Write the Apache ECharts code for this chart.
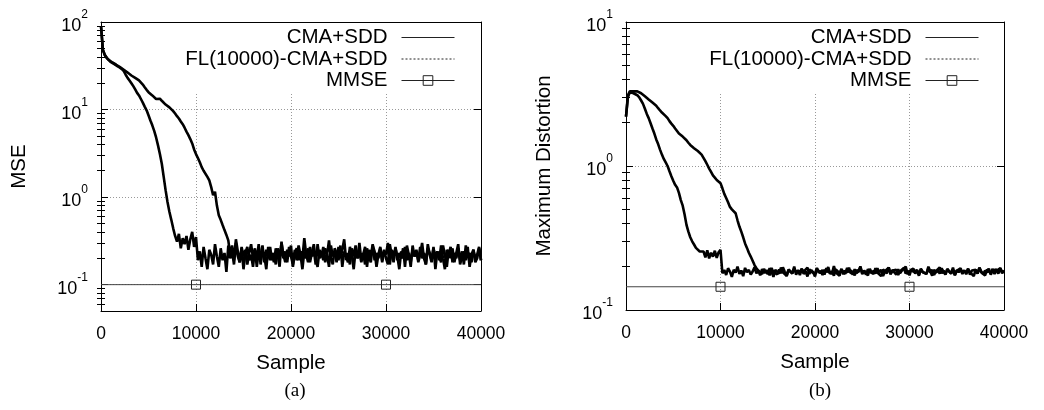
<!DOCTYPE html>
<html>
<head>
<meta charset="utf-8">
<script src="https://cdn.jsdelivr.net/npm/echarts@6/dist/echarts.min.js"></script>
<style>
html,body{margin:0;padding:0;background:#fff;}
#chart{width:1044px;height:410px;}
</style>
</head>
<body>
<div id="chart"></div>
<script>
// ---------- data ----------
const sampleStep = 200; // samples between stored points (0 .. 40000)
const seriesNames = ['CMA+SDD', 'FL(10000)-CMA+SDD', 'MMSE'];

// (a) MSE
const mseCMA = [
90,48,42,39,37,35.5,34.5,33.5,32.5,31.5,30.5,29.5,28.5,27.5,26.5,25.5,24.5,23.8,23,22.3,
21.5,20.5,19.3,18,16.8,15.8,15,14.5,13.8,13.2,13,13.3,12.6,12.1,11.4,11,10.6,10.1,9.6,9,
8.4,7.9,7.3,6.8,6.2,5.6,5.1,4.6,4.1,3.5,3.1,2.8,2.5,2.2,2.0,1.9,1.7,1.55,1.3,1.05,
1.15,0.8,0.62,0.55,0.48,0.42,0.37,0.32,
0.22,0.28,0.19,0.33,0.24,0.18,0.27,0.21,0.25,0.17,
0.23,0.29,0.2,0.26,0.16,0.24,0.22,0.28,0.18,0.25,
0.21,0.27,0.19,0.23,0.17,0.26,0.2,0.3,0.22,0.18,
0.25,0.21,0.28,0.16,0.23,0.26,0.19,0.24,0.2,0.34,
0.22,0.18,0.27,0.21,0.25,0.17,0.29,0.2,0.23,0.19,
0.26,0.22,0.16,0.28,0.21,0.24,0.18,0.27,0.2,0.25,
0.33,0.19,0.23,0.17,0.26,0.21,0.28,0.2,0.24,0.18,
0.22,0.27,0.16,0.25,0.21,0.29,0.19,0.23,0.2,0.26,
0.18,0.24,0.22,0.3,0.17,0.25,0.21,0.27,0.19,0.23,
0.2,0.26,0.16,0.28,0.22,0.18,0.25,0.21,0.24,0.19,
0.27,0.2,0.23,0.17,0.29,0.22,0.18,0.26,0.21,0.24,
0.19,0.28,0.2,0.15,0.25,0.22,0.27,0.18,0.23,0.2,
0.26,0.19,0.24,0.17,0.28,0.21,0.23,0.18,0.25,0.2,
0.22,0.27,0.19
];
const mseFL = [
90,48,42,39,37,35,34,33,32,31,30.5,29,27.5,25,23,21.5,20,18.5,17,15.5,
14.5,13.2,12,10.8,9.8,8.6,7.5,6.6,5.7,4.8,3.9,3.1,2.4,1.7,1.2,0.88,0.68,0.55,0.44,0.36,
0.31,0.38,0.26,0.34,0.29,0.36,0.25,0.33,0.4,0.27,0.35,
0.19,0.24,0.16,0.27,0.2,0.15,0.25,0.22,0.17,0.29,
0.21,0.16,0.26,0.19,0.23,0.14,0.28,0.2,0.24,0.17,
0.3,0.21,0.18,0.26,0.15,0.23,0.27,0.19,0.22,0.16,
0.25,0.2,0.29,0.17,0.24,0.21,0.15,0.27,0.19,0.23,
0.18,0.26,0.22,0.16,0.31,0.2,0.24,0.18,0.27,0.21,
0.17,0.25,0.19,0.28,0.22,0.15,0.24,0.2,0.26,0.18,
0.23,0.29,0.19,0.16,0.25,0.21,0.27,0.18,0.22,0.32,
0.2,0.17,0.26,0.23,0.19,0.28,0.16,0.24,0.21,0.18,
0.27,0.22,0.15,0.25,0.2,0.3,0.19,0.23,0.17,0.26,
0.21,0.18,0.28,0.24,0.16,0.22,0.27,0.19,0.25,0.2,
0.17,0.29,0.22,0.18,0.26,0.21,0.15,0.24,0.2,0.27,
0.19,0.23,0.16,0.28,0.21,0.25,0.18,0.22,0.3,0.2,
0.17,0.26,0.23,0.19,0.27,0.15,0.24,0.21,0.18,0.28,
0.22,0.16,0.25,0.2,0.26,0.18,0.23,0.29,0.17,0.21,
0.24,0.19,0.27,0.16,0.22,0.25,0.18,0.2,0.26,0.19
];
const mmseMSE = 0.1;

// (b) Maximum Distortion
const distCMA = [
2.2,3.1,3.3,3.35,3.3,3.38,3.3,3.25,3.2,3.12,3.05,2.97,2.9,2.83,2.76,2.7,2.62,2.52,2.43,2.35,
2.28,2.22,2.15,2.05,1.97,1.9,1.82,1.75,1.68,1.63,1.6,1.56,1.51,1.45,1.4,1.36,1.33,1.3,1.27,1.24,
1.2,1.14,1.08,1.02,0.96,0.91,0.86,0.83,0.8,0.79,0.76,0.7,0.64,0.6,0.56,0.52,0.5,0.51,0.47,0.42,
0.38,0.35,0.32,0.29,0.27,0.25,0.235,0.22,0.205,0.195,0.188,
0.185,0.178,0.193,0.181,0.189,0.174,0.196,0.183,0.187,0.177,
0.191,0.18,0.198,0.184,0.172,0.19,0.186,0.179,0.194,0.182,
0.188,0.175,0.192,0.185,0.18,0.197,0.178,0.189,0.183,0.171,
0.193,0.186,0.18,0.19,0.176,0.195,0.184,0.188,0.179,0.202,
0.182,0.187,0.173,0.191,0.185,0.178,0.196,0.183,0.189,0.176,
0.192,0.18,0.186,0.199,0.177,0.188,0.184,0.174,0.193,0.181,
0.187,0.179,0.195,0.183,0.19,0.172,0.186,0.182,0.197,0.178,
0.189,0.185,0.176,0.192,0.18,0.188,0.183,0.2,0.177,0.186,
0.181,0.194,0.179,0.189,0.173,0.191,0.184,0.187,0.178,0.196,
0.182,0.19,0.175,0.186,0.183,0.198,0.18,0.188,0.176,0.193,
0.185,0.179,0.191,0.174,0.187,0.184,0.195,0.181,0.189,0.177,
0.192,0.183,0.186,0.172,0.19,0.18,0.197,0.185,0.178,0.188,
0.182,0.194,0.176,0.189,0.184,0.191,0.179,0.196,0.183,0.187
];
const distFL = [
2.2,3.0,3.25,3.3,3.2,3.25,3.1,3.0,2.85,2.7,2.5,2.3,2.15,1.98,1.82,1.68,1.53,1.42,1.3,1.2,
1.12,1.06,1.0,0.92,0.85,0.79,0.74,0.71,0.65,0.58,0.53,0.46,0.39,0.35,0.32,0.3,0.285,0.27,0.262,0.255,
0.25,0.255,0.232,0.26,0.228,0.25,0.235,0.258,0.23,0.252,0.262,
0.18,0.19,0.175,0.195,0.185,0.17,0.19,0.182,0.2,0.178,
0.188,0.172,0.196,0.183,0.19,0.176,0.185,0.198,0.18,0.187,
0.174,0.192,0.181,0.189,0.177,0.195,0.184,0.17,0.19,0.186,
0.179,0.197,0.183,0.188,0.173,0.191,0.185,0.18,0.2,0.176,
0.189,0.182,0.194,0.178,0.186,0.171,0.192,0.184,0.188,0.179,
0.196,0.181,0.187,0.175,0.19,0.183,0.199,0.178,0.186,0.173,
0.191,0.185,0.18,0.193,0.177,0.188,0.182,0.197,0.179,0.186,
0.174,0.19,0.183,0.201,0.18,0.187,0.176,0.192,0.184,0.189,
0.178,0.195,0.182,0.186,0.172,0.191,0.185,0.18,0.198,0.177,
0.188,0.183,0.19,0.175,0.186,0.181,0.196,0.179,0.187,0.174,
0.192,0.184,0.18,0.189,0.176,0.194,0.183,0.187,0.178,0.2,
0.185,0.173,0.19,0.182,0.188,0.179,0.195,0.184,0.177,0.191,
0.186,0.18,0.197,0.175,0.189,0.183,0.192,0.178,0.187,0.181,
0.194,0.176,0.188,0.184,0.19,0.179,0.196,0.182,0.186,0.174,
0.191,0.185,0.18,0.193,0.178,0.187,0.183,0.195,0.18,0.188
];
const mmseDist = 0.145;

const mmseMarkerSamples = [10000, 30000];
const sampleRange = [0, 40000];
const sampleTickStep = 10000;
const yRangeA = [0.05, 100];
const yRangeB = [0.1, 10];
const yMinorA = [0.06,0.07,0.08,0.09,0.2,0.3,0.4,0.5,0.6,0.7,0.8,0.9,2,3,4,5,6,7,8,9,20,30,40,50,60,70,80,90];
const yMinorB = [0.2,0.3,0.4,0.5,0.6,0.7,0.8,0.9,2,3,4,5,6,7,8,9];
const panelLabels = ['(a)', '(b)'];
const yNames = ['MSE', 'Maximum Distortion'];
const xName = 'Sample';

// ---------- build ----------
const FONT = '"Liberation Sans", Arial, Helvetica, sans-serif';
const toPairs = arr => arr.map((v, i) => [i * sampleStep, v]);
const mmsePairs = v => [
  {value: [sampleRange[0], v], symbol: 'none'},
  ...mmseMarkerSamples.map(s => ({value: [s, v]})),
  {value: [sampleRange[1], v], symbol: 'none'}
];

function powLabel(v) {
  const l = Math.log10(v);
  const e = Math.round(l);
  if (Math.abs(l - e) > 1e-6) return '';
  return '{b|10}{s|' + e + '}';
}

const grids = [
  {left: 101, top: 22, width: 380, height: 289},
  {left: 626, top: 22, width: 378, height: 288}
];

const xAxes = [], yAxes = [], series = [], legends = [], titles = [];
const yRanges = [yRangeA, yRangeB];
const yMinors = [yMinorA, yMinorB];
const dataSets = [[mseCMA, mseFL, mmseMSE], [distCMA, distFL, mmseDist]];
const hiddenSymbol = {color: 'rgba(0,0,0,0)', borderColor: 'rgba(0,0,0,0)', borderWidth: 0, opacity: 0};

grids.forEach((g, gi) => {
  const xBase = {
    type: 'value', gridIndex: gi, min: sampleRange[0], max: sampleRange[1], interval: sampleTickStep,
    axisLine: {onZero: false, lineStyle: {color: '#000', width: 1}},
    axisTick: {inside: true, length: 7, lineStyle: {color: '#000'}}
  };
  xAxes.push(Object.assign({}, xBase, {
    position: 'bottom',
    name: xName, nameLocation: 'middle', nameGap: 42,
    nameTextStyle: {fontFamily: FONT, fontSize: 20.5, color: '#000'},
    axisLabel: {margin: 14, fontFamily: FONT, fontSize: 17.5, color: '#000', formatter: v => String(v)},
    splitLine: {show: true, lineStyle: {color: '#999', type: [1, 2], width: 1}}
  }));
  xAxes.push(Object.assign({}, xBase, {
    position: 'top', axisLabel: {show: false}, splitLine: {show: false}
  }));

  const yBase = {
    type: 'log', logBase: 10, gridIndex: gi, min: yRanges[gi][0], max: yRanges[gi][1]
  };
  yAxes.push(Object.assign({}, yBase, {
    position: 'left',
    name: yNames[gi], nameLocation: 'middle', nameGap: 71, nameRotate: 90,
    nameTextStyle: {fontFamily: FONT, fontSize: 20.5, color: '#000'},
    axisLine: {show: true, onZero: false, lineStyle: {color: '#000', width: 1}},
    axisTick: {inside: true, length: 7, lineStyle: {color: '#000'}},
    axisLabel: {
      margin: 13, formatter: powLabel, color: '#000',
      rich: {
        b: {fontFamily: FONT, fontSize: 18, color: '#000', lineHeight: 26, verticalAlign: 'bottom'},
        s: {fontFamily: FONT, fontSize: 12, color: '#000', lineHeight: 12, verticalAlign: 'top'}
      }
    },
    splitLine: {show: true, lineStyle: {color: '#999', type: [1, 2], width: 1}}
  }));
  yAxes.push(Object.assign({}, yBase, {
    position: 'right',
    axisLine: {show: true, onZero: false, lineStyle: {color: '#000', width: 1}},
    axisTick: {inside: true, length: 7, lineStyle: {color: '#000'}},
    axisLabel: {show: false}, splitLine: {show: false}
  }));
  ['left', 'right'].forEach(pos => {
    yAxes.push(Object.assign({}, yBase, {
      position: pos,
      axisLine: {show: false},
      axisTick: {inside: true, length: 4, customValues: yMinors[gi], lineStyle: {color: '#000'}},
      axisLabel: {show: false, customValues: yMinors[gi]},
      splitLine: {show: false}
    }));
  });

  const yIdx = gi * 4, xIdx = gi * 2;
  const [cma, fl, mmse] = dataSets[gi];
  series.push({
    name: seriesNames[0], type: 'line', xAxisIndex: xIdx, yAxisIndex: yIdx,
    data: toPairs(cma), showSymbol: false, symbol: 'none', sampling: null,
    lineStyle: {color: '#000', width: 2.6}, itemStyle: {color: '#000'}, z: 3
  });
  series.push({
    name: seriesNames[1], type: 'line', xAxisIndex: xIdx, yAxisIndex: yIdx,
    data: toPairs(fl), showSymbol: false, symbol: 'none',
    lineStyle: {color: '#000', width: 2.6}, itemStyle: {color: '#000'}, z: 3
  });
  series.push({
    name: seriesNames[2], type: 'line', xAxisIndex: xIdx, yAxisIndex: yIdx,
    data: mmsePairs(mmse), symbol: 'rect', symbolSize: 9, showSymbol: true,
    lineStyle: {color: '#444', width: 1},
    itemStyle: {color: 'rgba(0,0,0,0)', borderColor: '#222', borderWidth: 1}, z: 2
  });

  const iconRight = gi === 0 ? 455 : 979;
  legends.push({
    orient: 'vertical', align: 'right',
    right: 1044 - iconRight - 20, top: 23,
    padding: [4, 20, 3, 8],
    backgroundColor: '#fff',
    itemWidth: 53, itemHeight: 12, itemGap: 0.5,
    selectedMode: false,
    textStyle: {fontFamily: FONT, fontSize: 20.5, color: '#000',
                width: 212, align: 'right', padding: [0, 9, 0, 0]},
    lineStyle: {width: 1, color: '#222'},
    data: [
      {name: seriesNames[0], lineStyle: {type: 'solid', width: 1}, itemStyle: hiddenSymbol},
      {name: seriesNames[1], lineStyle: {type: [2, 2], width: 1}, itemStyle: hiddenSymbol},
      {name: seriesNames[2], lineStyle: {type: 'solid', width: 1}, itemStyle: {borderWidth: 1, borderColor: '#222', color: 'rgba(0,0,0,0)'}}
    ]
  });

  titles.push({
    text: panelLabels[gi], left: gi === 0 ? 290 : 815, top: 377, textAlign: 'center',
    textStyle: {fontFamily: '"Liberation Serif", "Times New Roman", serif', fontSize: 19, fontWeight: 'normal', color: '#000'}
  });
});

const chart = echarts.init(document.getElementById('chart'), null, {renderer: 'canvas'});
chart.setOption({
  animation: false,
  backgroundColor: '#fff',
  title: titles,
  grid: grids,
  xAxis: xAxes,
  yAxis: yAxes,
  legend: legends,
  series: series
});
</script>
</body>
</html>
